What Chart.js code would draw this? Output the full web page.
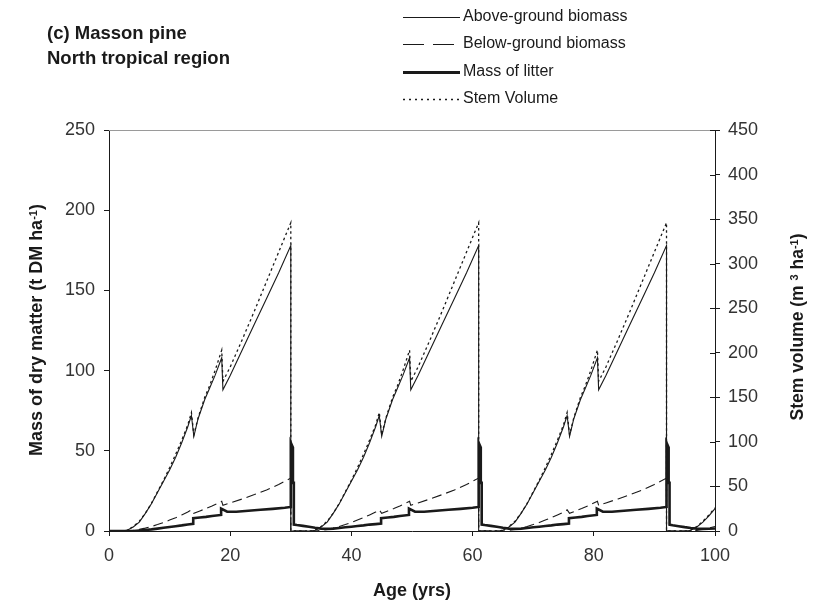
<!DOCTYPE html>
<html>
<head>
<meta charset="utf-8">
<title>Masson pine - North tropical region</title>
<script src="https://cdn.jsdelivr.net/npm/chart.js@4.4.0/dist/chart.umd.min.js"></script>
<style>
    html, body { margin: 0; padding: 0; background: #fff; }
    #wrap { width: 814px; height: 605px; }
</style>
</head>
<body>
<div id="wrap"><canvas id="biomassChart" width="814" height="605"></canvas></div>
<script>
// axis ticks
const ageTicks = [0, 20, 40, 60, 80, 100];
const massTicks = [0, 50, 100, 150, 200, 250];
const volumeTicks = [0, 50, 100, 150, 200, 250, 300, 350, 400, 450];

// [age (yrs), t DM/ha]
const aboveGround = [
    [0,0],[2.5,0],[3,0.5],[4,2.5],[5,5.5],[6,11],[7,17],[8,24],[9,31],[10,38],[11,46],[12,55],[13,65],[13.6,72],[14,59],[14.7,70],[15.8,82],[16.6,89],[17.5,97],[18.6,108],[18.8,88],[20,97],[22,113],[24,129],[26,145],[28,161],[30,178],[30,0],
    [33.5,0],[34,0.5],[35,2.5],[36,5.5],[37,11],[38,17],[39,24],[40,31],[41,38],[42,46],[43,55],[44,65],[44.6,72],[45,59],[45.7,70],[46.8,82],[47.6,89],[48.5,97],[49.6,108],[49.8,88],[51,97],[53,113],[55,129],[57,145],[59,161],[61,178],[61,0],
    [64.5,0],[65,0.5],[66,2.5],[67,5.5],[68,11],[69,17],[70,24],[71,31],[72,38],[73,46],[74,55],[75,65],[75.6,72],[76,59],[76.7,70],[77.8,82],[78.6,89],[79.5,97],[80.6,108],[80.8,88],[82,97],[84,113],[86,129],[88,145],[90,161],[92,178],[92,0],
    [95.5,0],[96,0.5],[97,2.5],[98,5.5],[99,9.5],[100,14]
];

const belowGround = [
    [0,0],[3,0],[4,0.4],[5,1],[6,1.8],[7,2.8],[8,4],[9,5.3],[10,6.8],[11,8.3],[12,10],[13,11.8],[13.6,13.2],[14,11],[15,12.5],[16,14],[17,15.6],[18.6,18.5],[18.8,16],[20,17.5],[22,20],[24,22.7],[26,25.6],[28,29],[30,33],[30,0],
    [34,0],[35,0.4],[36,1],[37,1.8],[38,2.8],[39,4],[40,5.3],[41,6.8],[42,8.3],[43,10],[44,11.8],[44.6,13.2],[45,11],[46,12.5],[47,14],[48,15.6],[49.6,18.5],[49.8,16],[51,17.5],[53,20],[55,22.7],[57,25.6],[59,29],[61,33],[61,0],
    [65,0],[66,0.4],[67,1],[68,1.8],[69,2.8],[70,4],[71,5.3],[72,6.8],[73,8.3],[74,10],[75,11.8],[75.6,13.2],[76,11],[77,12.5],[78,14],[79,15.6],[80.6,18.5],[80.8,16],[82,17.5],[84,20],[86,22.7],[88,25.6],[90,29],[92,33],[92,0],
    [96,0],[97,0.4],[98,1],[99,1.8],[100,2.8]
];

const litter = [
    [0,0],[4,0],[5,0.3],[6,0.6],[7,1],[8,1.5],[9,2],[10,2.5],[11,3],[12,3.5],[13,4.1],[13.9,4.5],[13.9,8],[15,8.4],[16,8.8],[17,9.3],[18.5,10],[18.5,14],[19.5,12],[21,12],[23,12.6],[25,13.2],[27,13.8],[29,14.5],[30,15],[30,55],[30.35,52],[30.35,30],[30.5,30],[30.5,4],
    [31,3.7],[32,3.2],[33,2.6],[34,2],[35,1.5],[36,1.3],[37,1.5],[38,1.9],[39,2.3],[40,2.7],[41,3.1],[42,3.5],[43,4],[44,4.3],[44.9,4.6],[44.9,8],[46,8.4],[47,8.8],[48,9.3],[49.5,10],[49.5,14],[50.5,12],[52,12],[54,12.6],[56,13.2],[58,13.8],[60,14.5],[61,15],[61,55],[61.35,52],[61.35,30],[61.5,30],[61.5,4],
    [62,3.7],[63,3.2],[64,2.6],[65,2],[66,1.5],[67,1.3],[68,1.5],[69,1.9],[70,2.3],[71,2.7],[72,3.1],[73,3.5],[74,4],[75,4.3],[75.9,4.6],[75.9,8],[77,8.4],[78,8.8],[79,9.3],[80.5,10],[80.5,14],[81.5,12],[83,12],[85,12.6],[87,13.2],[89,13.8],[91,14.5],[92,15],[92,55],[92.35,52],[92.35,30],[92.5,30],[92.5,4],
    [93,3.6],[94,3],[95,2.4],[96,1.9],[97,1.5],[98,1.3],[99,1.4],[100,1.6]
];

// [age (yrs), m3/ha] - right axis
const stemVolume = [
    [0,0],[2.5,0],[3,1],[4,5],[5,11],[6,20],[7,31],[8,44],[9,57],[10,71],[11,86],[12,102],[13,119],[13.6,133],[14,108],[14.7,127],[15.8,150],[16.6,163],[17.5,180],[18.6,203],[18.8,168],[20,184],[22,215],[24,247],[26,280],[28,313],[30,346],[30,0],
    [33.5,0],[34,1],[35,5],[36,11],[37,20],[38,31],[39,44],[40,57],[41,71],[42,86],[43,102],[44,119],[44.6,133],[45,108],[45.7,127],[46.8,150],[47.6,163],[48.5,180],[49.6,203],[49.8,168],[51,184],[53,215],[55,247],[57,280],[59,313],[61,346],[61,0],
    [64.5,0],[65,1],[66,5],[67,11],[68,20],[69,31],[70,44],[71,57],[72,71],[73,86],[74,102],[75,119],[75.6,133],[76,108],[76.7,127],[77.8,150],[78.6,163],[79.5,180],[80.6,203],[80.8,168],[82,184],[84,215],[86,247],[88,280],[90,313],[92,346],[92,0],
    [95.5,0],[96,1],[97,5],[98,11],[99,18],[100,26]
];

const seriesNames = ['Above-ground biomass', 'Below-ground biomass', 'Mass of litter', 'Stem Volume'];

const FONT = "'Liberation Sans', Arial, sans-serif";
const INK = '#1a1a1a';

const toXY = arr => arr.map(([x, y]) => ({ x: x, y: y }));

// text with raised parts (ha-1 etc), drawn rotated around (cx, cy)
function drawRichVertical(ctx, parts, cx, cy, size) {
    ctx.save();
    ctx.translate(cx, cy);
    ctx.rotate(-Math.PI / 2);
    ctx.fillStyle = INK;
    ctx.textBaseline = 'alphabetic';
    ctx.textAlign = 'left';
    let total = 0;
    parts.forEach(p => {
        ctx.font = 'bold ' + (p.sup ? Math.round(size * 0.6) : size) + 'px ' + FONT;
        p.w = ctx.measureText(p.text).width;
        total += p.w;
    });
    let x = -total / 2;
    parts.forEach(p => {
        ctx.font = 'bold ' + (p.sup ? Math.round(size * 0.6) : size) + 'px ' + FONT;
        ctx.fillText(p.text, x, p.sup ? size * 0.05 : size * 0.36);
        x += p.w;
    });
    ctx.restore();
}

const decorations = {
    id: 'decorations',
    afterDraw(chart) {
        const ctx = chart.ctx;
        const area = chart.chartArea;

        // thin frame line along the top
        ctx.save();
        ctx.strokeStyle = '#9a9a9a';
        ctx.lineWidth = 1;
        ctx.beginPath();
        ctx.moveTo(area.left, area.top + 0.5);
        ctx.lineTo(area.right, area.top + 0.5);
        ctx.stroke();

        // right axis ticks cross the axis line
        const y2 = chart.scales.y2;
        ctx.strokeStyle = INK;
        ctx.beginPath();
        volumeTicks.forEach(v => {
            const py = Math.round(y2.getPixelForValue(v)) + 0.5;
            ctx.moveTo(area.right - 5, py);
            ctx.lineTo(area.right, py);
        });
        ctx.stroke();

        // panel title
        ctx.fillStyle = INK;
        ctx.font = 'bold 18.5px ' + FONT;
        ctx.textBaseline = 'middle';
        ctx.textAlign = 'left';
        ctx.fillText('(c) Masson pine', 47, 34);
        ctx.fillText('North tropical region', 47, 59);

        // legend
        const rows = [
            { y: 17, width: 1, dash: [], end: 460 },
            { y: 44, width: 1, dash: [21, 9], end: 454 },
            { y: 72, width: 3, dash: [], end: 460 },
            { y: 99, width: 1.5, dash: [2, 4], end: 460 }
        ];
        ctx.font = '16px ' + FONT;
        rows.forEach((r, i) => {
            ctx.strokeStyle = INK;
            ctx.lineWidth = r.width;
            ctx.setLineDash(r.dash);
            ctx.beginPath();
            ctx.moveTo(403, r.y + 0.5);
            ctx.lineTo(r.end, r.y + 0.5);
            ctx.stroke();
            ctx.setLineDash([]);
            ctx.fillText(seriesNames[i], 463, r.y);
        });

        // x axis title
        ctx.font = 'bold 18px ' + FONT;
        ctx.textAlign = 'center';
        ctx.fillText('Age (yrs)', (area.left + area.right) / 2, 591);
        ctx.restore();

        drawRichVertical(ctx, [
            { text: 'Mass of dry matter (t DM ha' },
            { text: '-1', sup: true },
            { text: ')' }
        ], 36, 330, 18);

        drawRichVertical(ctx, [
            { text: 'Stem volume (m ' },
            { text: '3', sup: true },
            { text: ' ha' },
            { text: '-1', sup: true },
            { text: ')' }
        ], 797, 327, 17.5);
    }
};

const lineStyle = {
    pointRadius: 0,
    tension: 0,
    fill: false,
    borderColor: INK
};

const ctx = document.getElementById('biomassChart').getContext('2d');
const chart = new Chart(ctx, {
    type: 'line',
    data: {
        datasets: [
            Object.assign({ label: seriesNames[0], data: toXY(aboveGround), borderWidth: 1.1, yAxisID: 'y' }, lineStyle),
            Object.assign({ label: seriesNames[1], data: toXY(belowGround), borderWidth: 1.1, borderDash: [10, 5], yAxisID: 'y' }, lineStyle),
            Object.assign({ label: seriesNames[2], data: toXY(litter), borderWidth: 2.6, yAxisID: 'y' }, lineStyle),
            Object.assign({ label: seriesNames[3], data: toXY(stemVolume), borderWidth: 1.3, borderDash: [2.5, 3], yAxisID: 'y2' }, lineStyle)
        ]
    },
    options: {
        responsive: false,
        animation: false,
        layout: { padding: { top: 130, left: 0, right: 0, bottom: 0 } },
        plugins: {
            legend: { display: false },
            tooltip: { enabled: false }
        },
        scales: {
            x: {
                type: 'linear',
                min: 0,
                max: 100,
                afterFit: s => { s.height = 74; },
                afterBuildTicks: s => { s.ticks = ageTicks.map(v => ({ value: v })); },
                grid: { drawOnChartArea: false, drawTicks: true, tickLength: 5, color: INK },
                border: { color: INK, width: 1 },
                ticks: { padding: 9, color: '#333', font: { family: FONT, size: 18 } }
            },
            y: {
                position: 'left',
                min: 0,
                max: 250,
                afterFit: s => { s.width = 109; },
                afterBuildTicks: s => { s.ticks = massTicks.map(v => ({ value: v })); },
                grid: { drawOnChartArea: false, drawTicks: true, tickLength: 5, color: INK },
                border: { color: INK, width: 1 },
                ticks: { padding: 9, color: '#333', font: { family: FONT, size: 18 } }
            },
            y2: {
                position: 'right',
                min: 0,
                max: 450,
                afterFit: s => { s.width = 99; },
                afterBuildTicks: s => { s.ticks = volumeTicks.map(v => ({ value: v })); },
                grid: { drawOnChartArea: false, drawTicks: true, tickLength: 5, color: INK },
                border: { color: INK, width: 1 },
                ticks: { padding: 8, color: '#333', font: { family: FONT, size: 18 } }
            }
        }
    },
    plugins: [decorations]
});
</script>
</body>
</html>
